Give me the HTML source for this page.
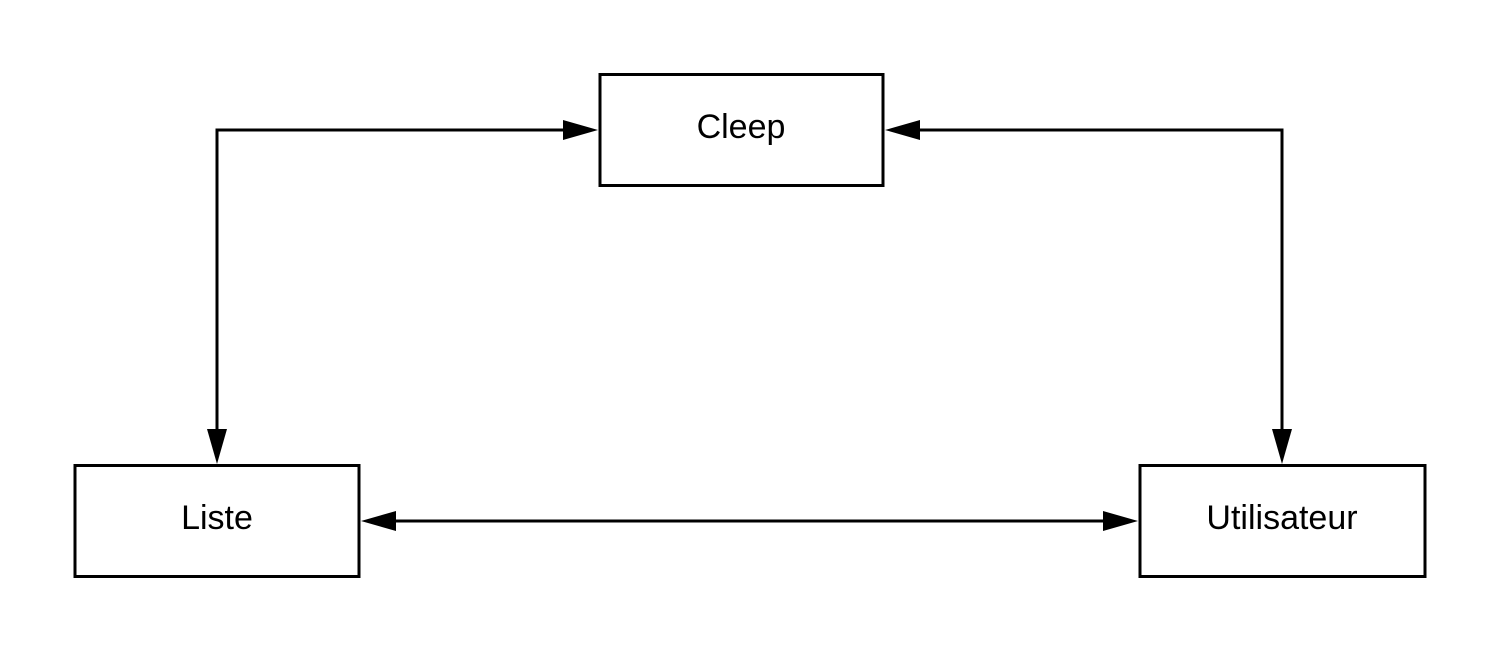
<!DOCTYPE html>
<html><head><style>html,body{margin:0;padding:0;background:#fff;}svg{display:block}</style></head>
<body>
<svg width="1500" height="653" xmlns="http://www.w3.org/2000/svg">
<g fill="none" stroke="#000" stroke-width="3">
<rect x="600" y="74.5" width="283" height="111"/>
<rect x="75" y="465.5" width="284" height="111"/>
<rect x="1140" y="465.5" width="285" height="111"/>
<polyline points="217,432 217,130 566,130"/>
<polyline points="918,130 1282,130 1282,432"/>
<line x1="394" y1="521" x2="1105" y2="521"/>
</g>
<g fill="#000">
<polygon points="598,130 563,120 563,140"/>
<polygon points="885,130 920,120 920,140"/>
<polygon points="217,464 207,429 227,429"/>
<polygon points="1282,464 1272,429 1292,429"/>
<polygon points="361,521 396,511 396,531"/>
<polygon points="1138,521 1103,511 1103,531"/>
</g>
<g font-family="Liberation Sans, sans-serif" font-size="34" text-anchor="middle" fill="#000">
<text x="741" y="138">Cleep</text>
<text x="217" y="529">Liste</text>
<text x="1282" y="529">Utilisateur</text>
</g>
</svg>
</body></html>
